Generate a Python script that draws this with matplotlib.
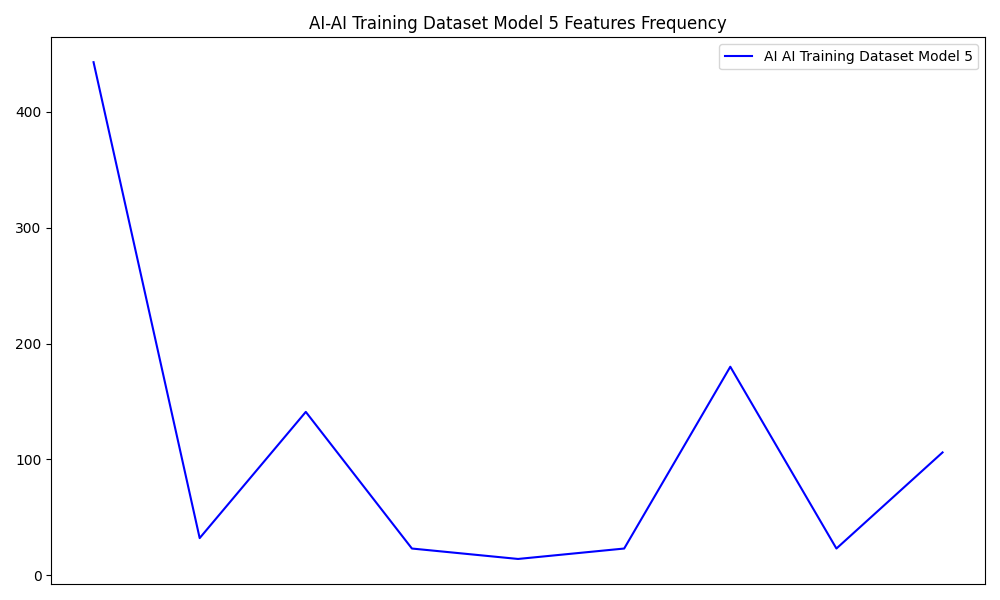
import matplotlib
matplotlib.use("Agg")
import matplotlib.pyplot as plt

# feature frequencies
features = ["f1", "f2", "f3", "f4", "f5", "f6", "f7", "f8", "f9"]
frequency = [443, 32, 141, 23, 14, 23, 180, 23, 106]

fig, ax = plt.subplots(figsize=(10, 6), dpi=100)
ax.plot(features, frequency, color="blue", label="AI AI Training Dataset Model 5")
ax.set_title("AI-AI Training Dataset Model 5 Features Frequency")
ax.set_xticks([])
ax.legend(loc="upper right")

plt.tight_layout()
plt.savefig("out.png", dpi=100)
